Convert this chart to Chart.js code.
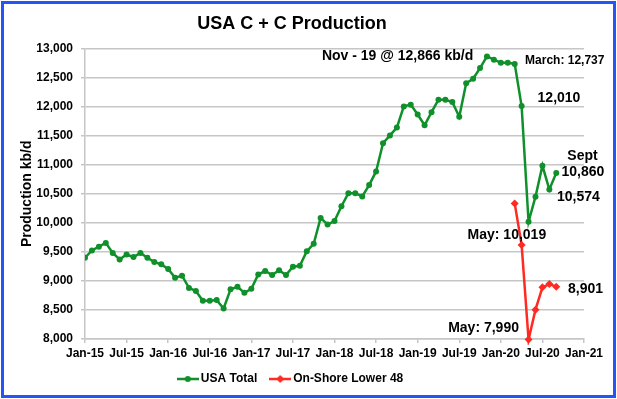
<!DOCTYPE html>
<html>
<head>
<meta charset="utf-8">
<title>USA C + C Production</title>
<script src="https://cdn.jsdelivr.net/npm/chart.js@4.4.1/dist/chart.umd.min.js"></script>
<style>
  html, body { margin: 0; padding: 0; background: #fff; }
  #wrap { position: relative; width: 617px; height: 399px; }
  #chart { position: absolute; left: 0; top: 0; }
  #frame { position: absolute; left: 1px; top: 1px; width: 609px; height: 391px;
           border: 3px solid #2456f5; pointer-events: none; }
</style>
</head>
<body>
<div id="wrap">
  <canvas id="chart" width="617" height="399"></canvas>
  <div id="frame"></div>
</div>
<script>
// x axis labels, one every 6 months (month index 0 = Jan-15)
const tickLabels = ['Jan-15', 'Jul-15', 'Jan-16', 'Jul-16', 'Jan-17', 'Jul-17', 'Jan-18',
                    'Jul-18', 'Jan-19', 'Jul-19', 'Jan-20', 'Jul-20', 'Jan-21'];

// USA total, monthly kb/d, Jan-15 .. Sep-20
const usaTotal = [
  9400, 9525, 9590, 9655, 9480, 9370, 9455, 9410, 9480, 9400, 9325, 9285,
  9205, 9055, 9090, 8880, 8825, 8660, 8660, 8670, 8525, 8855, 8900, 8795,
  8865, 9110, 9170, 9100, 9185, 9100, 9245, 9260, 9510, 9640, 10085, 9970,
  10030, 10285, 10510, 10510, 10455, 10650, 10885, 11370, 11505, 11640, 12005, 12035,
  11865, 11680, 11905, 12120, 12120, 12080, 11825, 12405, 12480, 12665, 12866, 12810,
  12755, 12755, 12737, 12010, 10019, 10450, 10985, 10574, 10860
];

// On-shore lower 48, starts Mar-20 (month index 62)
const onshoreStart = 62;
const onshoreL48 = [10335, 9620, 7990, 8505, 8890, 8945, 8901];

const notes = [
  { text: 'Nov - 19 @ 12,866 kb/d', month: 45.1, value: 12870, align: 'center', size: 14 },
  { text: 'March: 12,737', month: 63.5, value: 12800, align: 'left', size: 12 },
  { text: '12,010', month: 65.3, value: 12146, align: 'left', size: 14 },
  { text: 'Sept', month: 69.6, value: 11150, align: 'left', size: 14 },
  { text: '10,860', month: 68.75, value: 10875, align: 'left', size: 14 },
  { text: '10,574', month: 68.1, value: 10445, align: 'left', size: 14 },
  { text: 'May: 10,019', month: 55.2, value: 9792, align: 'left', size: 14 },
  { text: '8,901', month: 69.7, value: 8865, align: 'left', size: 14 },
  { text: 'May: 7,990', month: 52.4, value: 8195, align: 'left', size: 14 }
];

const GREEN = '#10902a';
const RED = '#ff2b22';
const GRID = '#c6c6c6';
const FONT = '"Liberation Sans", Arial, sans-serif';

function legendIcon(color, shape) {
  const c = document.createElement('canvas');
  c.width = 22; c.height = 10;
  const g = c.getContext('2d');
  g.strokeStyle = color; g.fillStyle = color; g.lineWidth = 2.5;
  g.beginPath(); g.moveTo(0, 5); g.lineTo(22, 5); g.stroke();
  g.beginPath();
  if (shape === 'circle') {
    g.arc(11, 5, 3, 0, Math.PI * 2);
  } else {
    g.moveTo(11, 1); g.lineTo(15, 5); g.lineTo(11, 9); g.lineTo(7, 5); g.closePath();
  }
  g.fill();
  return c;
}
const icons = [legendIcon(GREEN, 'circle'), legendIcon(RED, 'diamond')];

// text labels pinned to data coordinates
const notesPlugin = {
  id: 'notes',
  afterDatasetsDraw(chart) {
    const { ctx, scales: { x, y } } = chart;
    ctx.save();
    ctx.fillStyle = '#000';
    ctx.textBaseline = 'middle';
    notes.forEach(n => {
      ctx.font = 'bold ' + n.size + 'px ' + FONT;
      ctx.textAlign = n.align;
      ctx.fillText(n.text, x.getPixelForValue(n.month), y.getPixelForValue(n.value));
    });
    ctx.restore();
  }
};

new Chart(document.getElementById('chart'), {
  type: 'line',
  data: {
    datasets: [{
      label: 'USA Total',
      data: usaTotal.map((v, i) => ({ x: i, y: v })),
      borderColor: GREEN,
      backgroundColor: GREEN,
      borderWidth: 2.5,
      pointRadius: 3,
      pointStyle: 'circle',
      pointBorderWidth: 0,
      tension: 0
    }, {
      label: 'On-Shore Lower 48',
      data: onshoreL48.map((v, i) => ({ x: onshoreStart + i, y: v })),
      borderColor: RED,
      backgroundColor: RED,
      borderWidth: 2.5,
      pointRadius: 4,
      pointStyle: 'rectRot',
      pointBorderWidth: 0,
      tension: 0,
      clip: 6
    }]
  },
  options: {
    responsive: false,
    animation: false,
    layout: { padding: { left: 0, right: 33, top: 0, bottom: 4 } },
    scales: {
      x: {
        type: 'linear',
        min: 0,
        max: 72,
        afterFit: s => { s.height = 18; },
        grid: { display: true, drawOnChartArea: false, color: GRID, tickLength: 4, lineWidth: 1.5 },
        border: { color: GRID, width: 1.5 },
        ticks: {
          stepSize: 6,
          autoSkip: false,
          maxRotation: 0,
          padding: 3,
          color: '#000',
          font: { family: FONT, size: 12, weight: 'bold' },
          callback: v => tickLabels[v / 6]
        }
      },
      y: {
        min: 8000,
        max: 13000,
        afterFit: s => { s.width = 85; },
        grid: { color: GRID, lineWidth: 1.5, tickLength: 4 },
        border: { color: GRID, width: 1.5 },
        ticks: {
          stepSize: 500,
          padding: 8,
          color: '#000',
          font: { family: FONT, size: 12, weight: 'bold' },
          callback: v => v.toLocaleString('en-US')
        },
        title: {
          display: true,
          text: 'Production kb/d',
          color: '#000',
          padding: { top: 19, bottom: 0 },
          font: { family: FONT, size: 14, weight: 'bold' }
        }
      }
    },
    plugins: {
      title: {
        display: true,
        text: 'USA C + C Production',
        color: '#000',
        padding: { top: 13, bottom: 14 },
        font: { family: FONT, size: 18, weight: 'bold' }
      },
      legend: {
        position: 'bottom',
        labels: {
          usePointStyle: true,
          pointStyleWidth: 14,
          padding: 16,
          color: '#000',
          font: { family: FONT, size: 12, weight: 'bold' },
          generateLabels(chart) {
            const items = Chart.defaults.plugins.legend.labels.generateLabels(chart);
            items.forEach((it, i) => { it.pointStyle = icons[i]; });
            return items;
          }
        }
      },
      tooltip: { enabled: false }
    }
  },
  plugins: [notesPlugin]
});
</script>
</body>
</html>
